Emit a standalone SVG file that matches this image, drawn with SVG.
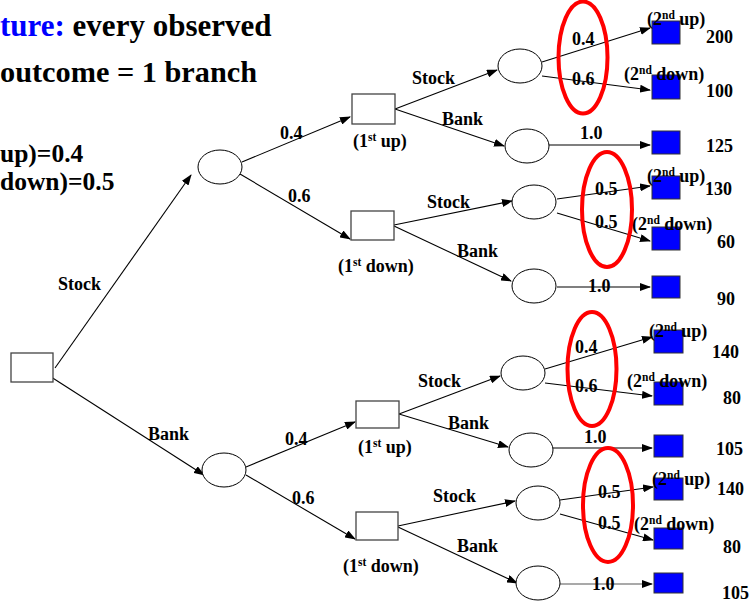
<svg xmlns="http://www.w3.org/2000/svg" width="751" height="602" viewBox="0 0 751 602" font-family="Liberation Serif" font-weight="bold">
<defs>
<marker id="ah" markerUnits="userSpaceOnUse" markerWidth="11" markerHeight="8" refX="10" refY="4" orient="auto"><path d="M0,0 L11,4 L0,8 z" fill="#000"/></marker>
<style>
text{fill:#000}
.t{font-size:18px}
.big{font-size:31px}
.mid{font-size:25.5px}
.sup{font-size:11.5px}
.dec{fill:#fff;stroke:#444;stroke-width:1.3}
.ch{fill:#fff;stroke:#000;stroke-width:1}
.end{fill:#0000ff;stroke:#333;stroke-width:1}
.red{fill:none;stroke:#ff0000;stroke-width:4}
#connectors line{stroke:#000;stroke-width:1.1;marker-end:url(#ah)}
</style>
</defs>
<rect width="751" height="602" fill="#fff"/>
<g id="title">
<text class="big" x="0" y="36"><tspan style="fill:#0000ff">ture:</tspan> every observed</text>
<text class="big" x="0" y="82" style="font-size:30.3px">outcome = 1 branch</text>
<text class="mid" x="0" y="162">up)=0.4</text>
<text class="mid" x="0" y="190">down)=0.5</text>
</g>
<g id="connectors">
<line x1="55" y1="368" x2="191" y2="175"/>
<line x1="48" y1="375" x2="204" y2="475"/>
<line x1="242" y1="162" x2="350" y2="117"/>
<line x1="240" y1="174" x2="350" y2="239"/>
<line x1="395" y1="109" x2="497" y2="70"/>
<line x1="395" y1="109" x2="504" y2="146"/>
<line x1="394" y1="225" x2="512" y2="201"/>
<line x1="394" y1="226" x2="511" y2="281"/>
<line x1="246" y1="467" x2="355" y2="422"/>
<line x1="246" y1="475" x2="355" y2="539"/>
<line x1="399" y1="414" x2="500" y2="376"/>
<line x1="399" y1="414" x2="508" y2="447"/>
<line x1="398" y1="526" x2="515" y2="501"/>
<line x1="398" y1="527" x2="517" y2="583"/>
<line x1="542" y1="62" x2="650" y2="28"/>
<line x1="542" y1="76" x2="650" y2="90"/>
<line x1="549" y1="145" x2="650" y2="145"/>
<line x1="557" y1="199" x2="650" y2="186"/>
<line x1="557" y1="213" x2="650" y2="241"/>
<line x1="557" y1="287" x2="650" y2="287"/>
<line x1="545" y1="369" x2="652" y2="337"/>
<line x1="545" y1="383" x2="652" y2="396"/>
<line x1="553" y1="448" x2="652" y2="448"/>
<line x1="560" y1="500" x2="653" y2="487"/>
<line x1="560" y1="514" x2="653" y2="540"/>
<line x1="560" y1="584" x2="652" y2="584" style="stroke:#555"/>
</g>
<g id="root"><rect class="dec" x="11" y="353" width="42" height="29"/></g>
<g id="chance-stock"><ellipse class="ch" cx="220" cy="167" rx="22" ry="17"/></g>
<g id="chance-bank"><ellipse class="ch" cx="224" cy="470" rx="22" ry="17"/></g>
<g id="s-up"><rect class="dec" x="352" y="94" width="43" height="30"/><text class="t" x="353" y="147">(1<tspan class="sup" dy="-6">st</tspan><tspan dy="6"> up)</tspan></text></g>
<g id="s-down"><rect class="dec" x="351" y="211" width="43" height="29"/><text class="t" x="338" y="272">(1<tspan class="sup" dy="-6">st</tspan><tspan dy="6"> down)</tspan></text></g>
<g id="b-up"><rect class="dec" x="356" y="401" width="43" height="27"/><text class="t" x="358" y="453">(1<tspan class="sup" dy="-6">st</tspan><tspan dy="6"> up)</tspan></text></g>
<g id="b-down"><rect class="dec" x="356" y="512" width="42" height="28"/><text class="t" x="343" y="572">(1<tspan class="sup" dy="-6">st</tspan><tspan dy="6"> down)</tspan></text></g>
<g id="chA"><ellipse class="ch" cx="520" cy="66" rx="22" ry="17"/></g>
<g id="chB"><ellipse class="ch" cx="527" cy="146" rx="22" ry="17"/></g>
<g id="chC"><ellipse class="ch" cx="534" cy="202" rx="22" ry="17"/></g>
<g id="chD"><ellipse class="ch" cx="534" cy="286" rx="22" ry="17"/></g>
<g id="chE"><ellipse class="ch" cx="523" cy="373" rx="22" ry="17"/></g>
<g id="chF"><ellipse class="ch" cx="531" cy="450" rx="22" ry="17"/></g>
<g id="chG"><ellipse class="ch" cx="538" cy="503" rx="22" ry="17"/></g>
<g id="chH"><ellipse class="ch" cx="538" cy="583" rx="22" ry="17"/></g>
<g id="endA1"><rect class="end" x="652" y="21" width="28" height="23"/><text class="t" x="647" y="25">(2<tspan class="sup" dy="-6">nd</tspan><tspan dy="6"> up)</tspan></text><text class="t" x="706" y="43">200</text></g>
<g id="endA2"><rect class="end" x="652" y="75" width="28" height="24"/><text class="t" x="624" y="80">(2<tspan class="sup" dy="-6">nd</tspan><tspan dy="6"> down)</tspan></text><text class="t" x="706" y="97">100</text></g>
<g id="endB"><rect class="end" x="652" y="131" width="28" height="23"/><text class="t" x="706" y="152">125</text></g>
<g id="endC1"><rect class="end" x="652" y="176" width="28" height="23"/><text class="t" x="647" y="182">(2<tspan class="sup" dy="-6">nd</tspan><tspan dy="6"> up)</tspan></text><text class="t" x="705" y="195">130</text></g>
<g id="endC2"><rect class="end" x="652" y="227" width="28" height="23"/><text class="t" x="632" y="230">(2<tspan class="sup" dy="-6">nd</tspan><tspan dy="6"> down)</tspan></text><text class="t" x="717" y="248">60</text></g>
<g id="endD"><rect class="end" x="652" y="276" width="28" height="22"/><text class="t" x="717" y="305">90</text></g>
<g id="endE1"><rect class="end" x="654" y="330" width="29" height="23"/><text class="t" x="649" y="337">(2<tspan class="sup" dy="-6">nd</tspan><tspan dy="6"> up)</tspan></text><text class="t" x="712" y="358">140</text></g>
<g id="endE2"><rect class="end" x="654" y="382" width="29" height="23"/><text class="t" x="627" y="387">(2<tspan class="sup" dy="-6">nd</tspan><tspan dy="6"> down)</tspan></text><text class="t" x="723" y="404">80</text></g>
<g id="endF"><rect class="end" x="654" y="435" width="29" height="22"/><text class="t" x="716" y="455">105</text></g>
<g id="endG1"><rect class="end" x="654" y="478" width="29" height="22"/><text class="t" x="652" y="485">(2<tspan class="sup" dy="-6">nd</tspan><tspan dy="6"> up)</tspan></text><text class="t" x="717" y="495">140</text></g>
<g id="endG2"><rect class="end" x="654" y="528" width="29" height="21"/><text class="t" x="634" y="530">(2<tspan class="sup" dy="-6">nd</tspan><tspan dy="6"> down)</tspan></text><text class="t" x="723" y="553">80</text></g>
<g id="endH"><rect class="end" x="654" y="573" width="29" height="20"/><text class="t" x="722" y="599">105</text></g>
<g id="edge-labels">
<text class="t" x="58" y="290">Stock</text>
<text class="t" x="148" y="440">Bank</text>
<text class="t" x="280" y="139">0.4</text>
<text class="t" x="288" y="202">0.6</text>
<text class="t" x="285" y="445">0.4</text>
<text class="t" x="292" y="504">0.6</text>
<text class="t" x="412" y="84">Stock</text>
<text class="t" x="442" y="125">Bank</text>
<text class="t" x="427" y="208">Stock</text>
<text class="t" x="457" y="257">Bank</text>
<text class="t" x="418" y="387">Stock</text>
<text class="t" x="448" y="429">Bank</text>
<text class="t" x="433" y="502">Stock</text>
<text class="t" x="457" y="552">Bank</text>
<text class="t" x="572" y="45">0.4</text>
<text class="t" x="572" y="85">0.6</text>
<text class="t" x="580" y="139">1.0</text>
<text class="t" x="595" y="195">0.5</text>
<text class="t" x="595" y="228">0.5</text>
<text class="t" x="588" y="292">1.0</text>
<text class="t" x="575" y="353">0.4</text>
<text class="t" x="575" y="392">0.6</text>
<text class="t" x="584" y="443">1.0</text>
<text class="t" x="598" y="498">0.5</text>
<text class="t" x="598" y="529">0.5</text>
<text class="t" x="592" y="590">1.0</text>
</g>
<g id="highlights">
<ellipse class="red" cx="583" cy="57.5" rx="24.5" ry="56"/>
<ellipse class="red" cx="607" cy="209.5" rx="25" ry="57.5"/>
<ellipse class="red" cx="592" cy="369" rx="24.5" ry="57"/>
<ellipse class="red" cx="608" cy="505" rx="25" ry="57"/>
</g>
</svg>
